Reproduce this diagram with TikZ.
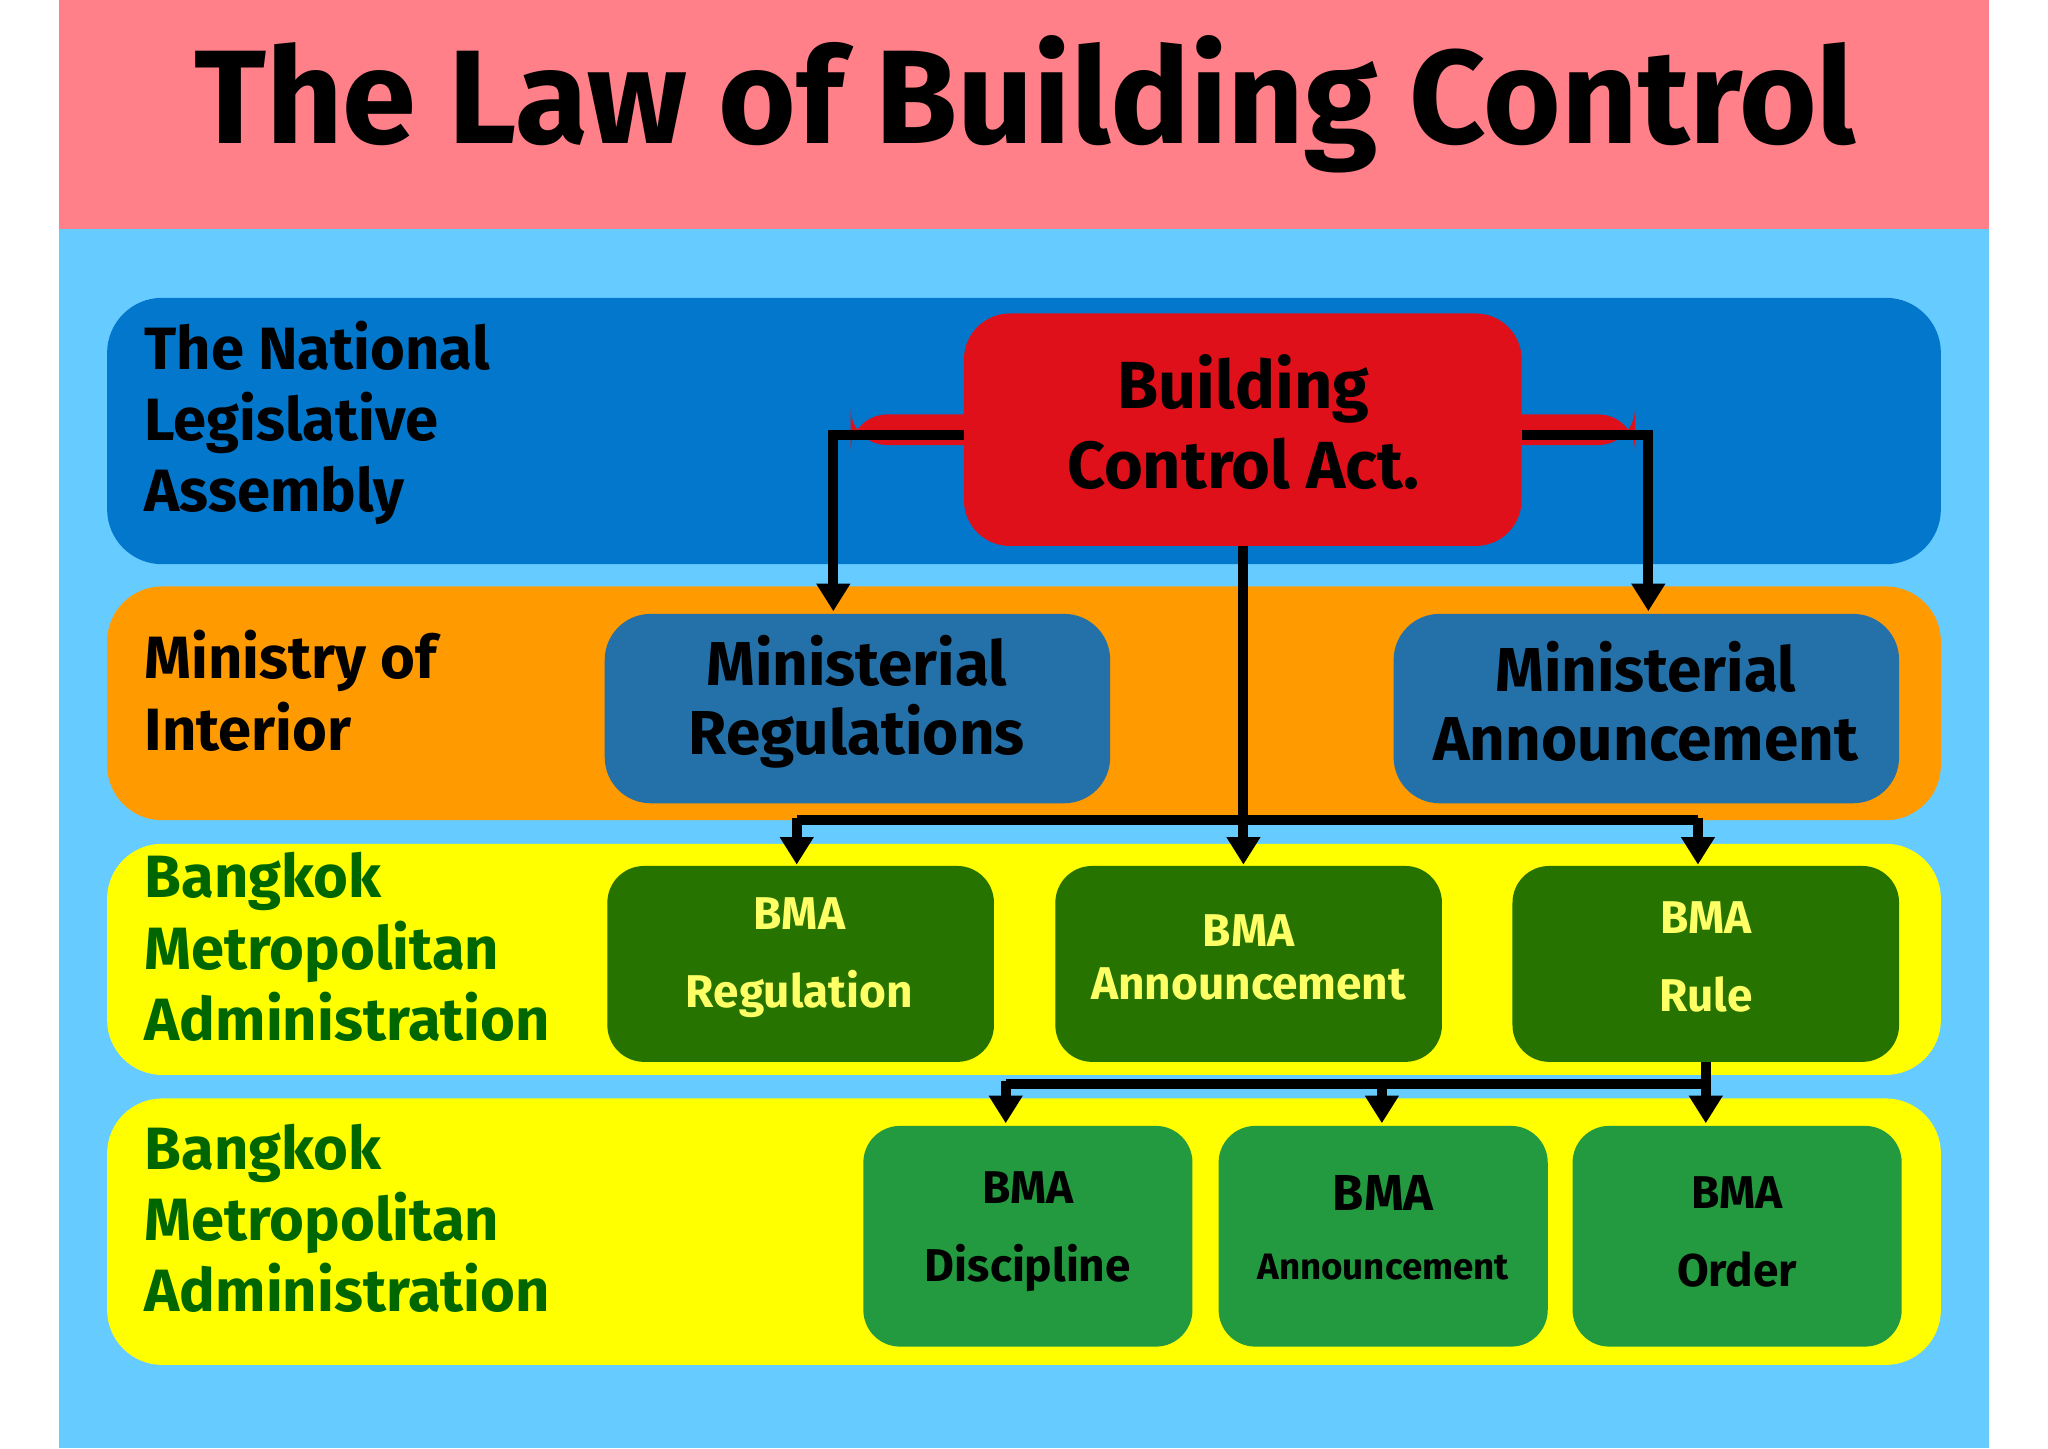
\documentclass[tikz,border=0pt]{standalone}
\usepackage{fontspec}
\setmainfont{Fira Sans}
\usetikzlibrary{arrows.meta}
\definecolor{bgblue}{HTML}{66CCFF}
\definecolor{pinkband}{HTML}{FF8088}
\definecolor{nlaBlue}{HTML}{0277CC}
\definecolor{orangeband}{HTML}{FF9A00}
\definecolor{yel}{HTML}{FFFF00}
\definecolor{actred}{HTML}{E0101A}
\definecolor{minblue}{HTML}{2471A9}
\definecolor{dgreen}{HTML}{267300}
\definecolor{mgreen}{HTML}{239A3F}
\definecolor{txtgreen}{HTML}{006600}
\definecolor{bmayel}{HTML}{FFFF66}
\begin{document}
\begin{tikzpicture}[x=0.01cm,y=-0.01cm,
  band/.style={rounded corners=12pt},
  box/.style={rounded corners=8pt,draw=none,align=center,font=\bfseries\fontsize{13.5}{15}\selectfont},
  lbl/.style={anchor=north west,align=left,font=\bfseries\fontsize{13}{15.5}\selectfont,inner sep=0},
  bma/.style={rounded corners=6pt,align=center,font=\bfseries\fontsize{10}{17}\selectfont},
  arr/.style={line width=2.2pt,-{Triangle[length=6pt,width=7pt]}},
  ln/.style={line width=2.2pt}]
\useasboundingbox (0,0) rectangle (1568,1109);
\fill[white] (0,0) rectangle (1568,1109);
\fill[bgblue] (45,0) rectangle (1523,1109);
\fill[pinkband] (45,0) rectangle (1523,175);
\node[font=\bfseries\fontsize{29}{32}\selectfont] (title) at (785,80) {The Law of Building Control};
\fill[band,nlaBlue] (82,228) rectangle (1486,432);
\fill[band,orangeband] (82,449) rectangle (1486,628);
\fill[band,yel] (82,646) rectangle (1486,823);
\fill[band,yel] (82,841) rectangle (1486,1045);
\node[lbl] (l1) at (110,245) {The National\\Legislative\\Assembly};
\node[lbl] (l2) at (110,482) {Ministry of\\Interior};
\node[lbl,text=txtgreen] (l3) at (110,652) {Bangkok\\Metropolitan\\Administration};
\node[lbl,text=txtgreen] (l4) at (110,860) {Bangkok\\Metropolitan\\Administration};
\node[box,fill=actred,minimum width=427\pgflinewidth,font=\bfseries\fontsize{14.5}{17}\selectfont] (act) at (951.5,329) {};
\fill[actred,rounded corners=10pt] (738,240) rectangle (1165,418);
\coordinate (actL) at (738,333); \coordinate (actR) at (1165,333); \coordinate (actB) at (952,418);
\node[font=\bfseries\fontsize{14.5}{17.5}\selectfont,align=center] (acttext) at (952,323) {Building\\Control Act.};
\fill[minblue,rounded corners=10pt] (463,470) rectangle (850,615);
\fill[minblue,rounded corners=10pt] (1067,470) rectangle (1454,615);
\node[box] (mr) at (656,537) {Ministerial\\Regulations};
\node[box] (ma) at (1260,537) {Ministerial\\Announcement};
\foreach \x/\n in {465/r,808/a,1158/u}{\fill[dgreen,rounded corners=8pt] (\x,663) rectangle ++(296,150);}
\node[bma,text=bmayel] (b1) at (612,733) {BMA\\Regulation};
\node[bma,text=bmayel,font=\bfseries\fontsize{10}{11.5}\selectfont] (b2) at (956,733) {BMA\\Announcement};
\node[bma,text=bmayel] (b3) at (1306,733) {BMA\\Rule};
\foreach \x in {661,933,1204}{\fill[mgreen,rounded corners=8pt] (\x,862) rectangle ++(252,169);}
\node[bma] (c1) at (787,943) {BMA\\Discipline};
\node[bma,font=\bfseries\fontsize{8}{15}\selectfont] (c2) at (1059,940) {{\fontsize{11}{13}\selectfont BMA}\\Announcement};
\node[bma] (c3) at (1330,943) {BMA\\Order};
% arrows
\draw[arr] (actL) -| (638,468);
\draw[arr] (actR) -| (1262,468);
\draw[arr] (actB) -- (952,662);
\draw[ln] (610,628) -- (1300,628);
\draw[arr] (610,626) -- (610,662);
\draw[arr] (1300,626) -- (1300,662);
\draw[ln] (1306,813) -- (1306,830);
\draw[ln] (770,830) -- (1306,830);
\draw[arr] (770,828) -- (770,860);
\draw[arr] (1058,828) -- (1058,860);
\draw[arr] (1306,828) -- (1306,860);
\end{tikzpicture}
\end{document}
